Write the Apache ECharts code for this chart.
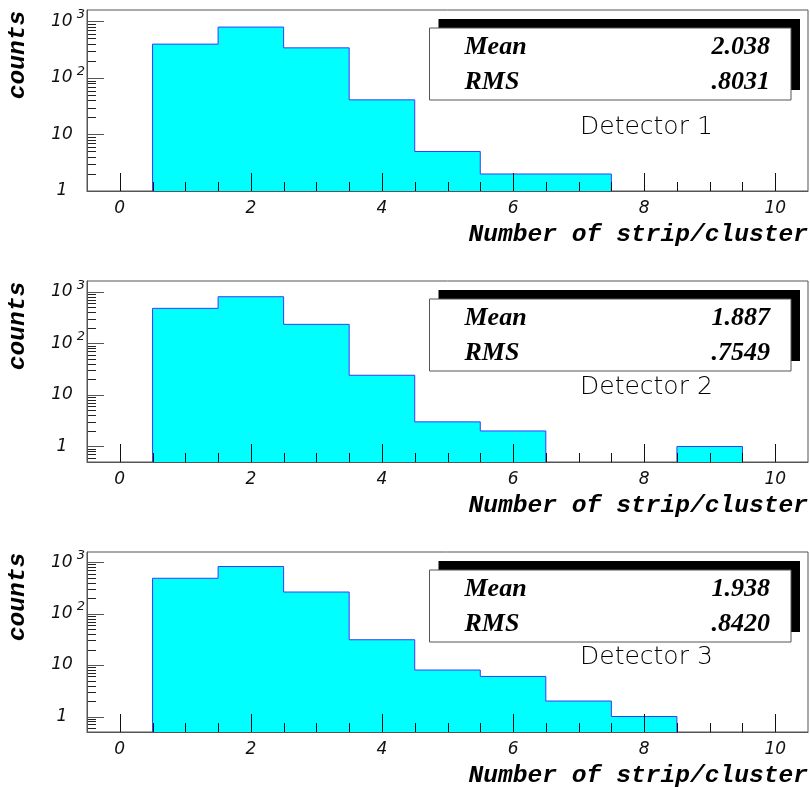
<!DOCTYPE html>
<html>
<head>
<meta charset="utf-8">
<script src="https://cdn.jsdelivr.net/npm/echarts@6/dist/echarts.min.js"></script>
<style>html,body{margin:0;padding:0;background:#fff}#c{width:810px;height:787px}</style>
</head>
<body>
<div id="c"></div>
<script>
// ---- data ----
const binStart = 0.5;          // low edge of first bin
const binWidth = 1;
const counts1 = [397, 795, 341, 41, 5, 2, 2];
const counts2 = [476, 800, 233, 24, 3, 2, 0, 0, 1];
const counts3 = [485, 820, 262, 31, 8, 6, 2, 1];
const detectorNames = ['Detector 1', 'Detector 2', 'Detector 3'];
const means = ['2.038', '1.887', '1.938'];
const rmsValues = ['.8031', '.7549', '.8420'];
const yMins = [1, 0.5, 0.5];
const yMaxs = [1594, 1614, 1570];
const xMajorTicks = [0, 2, 4, 6, 8, 10];
const xMinorTicks = [0.5, 1, 1.5, 2.5, 3, 3.5, 4.5, 5, 5.5, 6.5, 7, 7.5, 8.5, 9, 9.5];
const yMajorTicks = [1, 10, 100, 1000];
const yMinorMantissa = [2, 3, 4, 5, 6, 7, 8, 9];
const xTitle = 'Number of strip/cluster';
const yTitle = 'counts';

// ---- layout ----
const allCounts = [counts1, counts2, counts3];
const gridTops = [10, 281, 552];
const gridHeights = [181, 181, 180];
const gridLeft = 87, gridRight = 2, plotRight = 808;
const detectorY = [117, 106, 105];
const xMin = -0.5, xMax = 10.5;

function histPoints(counts, ymin) {
  const pts = [];
  let inRun = false;
  counts.forEach((c, i) => {
    const lo = binStart + i * binWidth, hi = lo + binWidth;
    if (c > 0) {
      if (!inRun) { pts.push([lo, ymin]); inRun = true; }
      pts.push([lo, c]); pts.push([hi, c]);
    } else if (inRun) {
      pts.push([lo, ymin]); pts.push(null); inRun = false;
    }
  });
  if (inRun) pts.push([binStart + counts.length * binWidth, ymin]);
  return pts;
}

function minorY(ymin) {
  const v = [];
  [0.1, 1, 10, 100].forEach(d => yMinorMantissa.forEach(m => {
    const val = m * d;
    if (val > ymin && val < 1000) v.push(+val.toFixed(3));
  }));
  return v;
}

// tick marks drawn as a custom series through the axes' own scales (kept above the fill)
function tickSeries(p, values, dir, len, color) {
  return {
    type: 'custom', xAxisIndex: p, yAxisIndex: p, z: 5, silent: true, clip: false,
    data: values.map(v => [v]),
    renderItem: (params, api) => {
      const v = api.value(0);
      if (dir === 'x') {
        const pt = api.coord([v, yMins[p]]);
        const x = Math.round(pt[0]) + 0.5;
        return {type: 'line', shape: {x1: x, y1: pt[1], x2: x, y2: pt[1] - len}, style: {stroke: color, lineWidth: 1}};
      }
      const pt = api.coord([xMin, v]);
      const y = Math.round(pt[1]) + 0.5;
      return {type: 'line', shape: {x1: pt[0], y1: y, x2: pt[0] + len, y2: y}, style: {stroke: color, lineWidth: 1}};
    }
  };
}

const labelFont = '"DejaVu Sans", sans-serif';
const grids = [], xAxes = [], yAxes = [], series = [], graphics = [];

allCounts.forEach((counts, p) => {
  const top = gridTops[p], h = gridHeights[p];
  grids.push({left: gridLeft, right: gridRight, top: top, height: h, show: true,
    borderColor: '#555', borderWidth: 1, backgroundColor: 'transparent'});
  xAxes.push({type: 'value', gridIndex: p, min: xMin, max: xMax, position: 'bottom', z: 10,
    axisLine: {show: true, onZero: false, lineStyle: {color: '#555', width: 1}},
    axisTick: {show: false},
    axisLabel: {show: true, customValues: xMajorTicks, margin: 9,
      fontFamily: labelFont, fontStyle: 'italic', fontSize: 17, color: '#111'},
    splitLine: {show: false}});
  yAxes.push({type: 'log', logBase: 10, gridIndex: p, min: yMins[p], max: yMaxs[p], position: 'left', z: 10,
    axisLine: {show: true, onZero: false, lineStyle: {color: '#555', width: 1}},
    axisTick: {show: false},
    axisLabel: {show: true, customValues: yMajorTicks, margin: 25, align: 'center',
      fontFamily: labelFont, fontStyle: 'italic', fontSize: 17, color: '#111',
      formatter: v => {
        const e = Math.round(Math.log10(v));
        if (e <= 1) return '{b|' + String(Math.round(v)) + '}';
        return '{h|}{b|10}{s|' + e + '}';
      },
      rich: {
        b: {fontFamily: labelFont, fontStyle: 'italic', fontSize: 17, color: '#111'},
        s: {fontFamily: labelFont, fontStyle: 'italic', fontSize: 13, color: '#111', padding: [0, 0, 13, 4]},
        h: {width: 12}
      }},
    splitLine: {show: false}});

  series.push({type: 'line', xAxisIndex: p, yAxisIndex: p, data: histPoints(counts, yMins[p]),
    symbol: 'none', connectNulls: false, z: 2, silent: true,
    lineStyle: {color: '#3a3aff', width: 1},
    areaStyle: {color: '#00ffff', opacity: 1, origin: 'start'}});
  series.push(tickSeries(p, xMajorTicks, 'x', 18, '#111'));
  series.push(tickSeries(p, xMinorTicks, 'x', 9, '#111'));
  series.push(tickSeries(p, yMajorTicks, 'y', 17, '#555'));
  series.push(tickSeries(p, minorY(yMins[p]), 'y', 9, '#222'));

  // stats box
  const bx = 429.5, by = top + 18, bw = 361.5, bh = 72;
  graphics.push({type: 'rect', shape: {x: bx + 9, y: by - 9, width: bw, height: bh - 1}, style: {fill: '#000'}, z: 20});
  graphics.push({type: 'rect', shape: {x: bx, y: by, width: bw, height: bh}, style: {fill: '#fff', stroke: '#555', lineWidth: 1}, z: 21});
  const sFont = 'italic bold 26px "Liberation Serif", "Times New Roman", serif';
  graphics.push({type: 'text', x: bx + 35, y: by + 19, z: 22, style: {text: 'Mean', font: sFont, fill: '#000', textAlign: 'left', textVerticalAlign: 'middle'}});
  graphics.push({type: 'text', x: bx + bw - 21, y: by + 19, z: 22, style: {text: means[p], font: sFont, fill: '#000', textAlign: 'right', textVerticalAlign: 'middle'}});
  graphics.push({type: 'text', x: bx + 35, y: by + 54, z: 22, style: {text: 'RMS', font: sFont, fill: '#000', textAlign: 'left', textVerticalAlign: 'middle'}});
  graphics.push({type: 'text', x: bx + bw - 21, y: by + 54, z: 22, style: {text: rmsValues[p], font: sFont, fill: '#000', textAlign: 'right', textVerticalAlign: 'middle'}});
  // detector label
  graphics.push({type: 'text', x: 580, y: top + detectorY[p], z: 22,
    style: {text: detectorNames[p], font: '200 25px "DejaVu Sans ExtraLight", "DejaVu Sans", sans-serif', fill: '#000', textAlign: 'left', textVerticalAlign: 'middle'}});
  // axis titles
  graphics.push({type: 'text', x: plotRight, y: top + h + 43.5, z: 22,
    style: {text: xTitle, font: 'italic bold 24.6px "Liberation Mono", "Courier New", monospace', fill: '#000', textAlign: 'right', textVerticalAlign: 'middle'}});
  graphics.push({type: 'text', x: 18, y: top + 45, rotation: Math.PI / 2, z: 22,
    style: {text: yTitle, font: 'italic bold 24.6px "Liberation Mono", "Courier New", monospace', fill: '#000', textAlign: 'center', textVerticalAlign: 'middle'}});
});

const chart = echarts.init(document.getElementById('c'), null, {renderer: 'canvas'});
chart.setOption({
  animation: false,
  backgroundColor: '#fff',
  grid: grids, xAxis: xAxes, yAxis: yAxes, series: series,
  graphic: {elements: graphics}
});
</script>
</body>
</html>
